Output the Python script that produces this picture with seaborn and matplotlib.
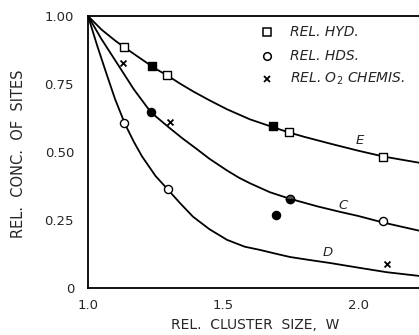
import numpy as np
import pandas as pd
import matplotlib
matplotlib.use("Agg")
import matplotlib.pyplot as plt
import seaborn as sns

sns.set_style("white")
plt.rcParams['font.family'] = ['DejaVu Sans']

# Fitted curves
curve_E_x = [1.0, 1.05, 1.1, 1.133, 1.2, 1.25, 1.293, 1.34, 1.389, 1.45, 1.515, 1.6, 1.689,
             1.744, 1.8, 1.9, 2.0, 2.096, 2.23]
curve_E_y = [1.0, 0.95, 0.91, 0.886, 0.84, 0.806, 0.782, 0.752, 0.723, 0.69, 0.657, 0.62, 0.59,
             0.572, 0.556, 0.53, 0.505, 0.483, 0.46]
curve_C_x = [1.0, 1.05, 1.115, 1.17, 1.233, 1.3, 1.35, 1.4, 1.45, 1.515, 1.56, 1.6, 1.674,
             1.748, 1.85, 1.933, 2.0, 2.096, 2.23]
curve_C_y = [1.0, 0.915, 0.815, 0.73, 0.646, 0.59, 0.55, 0.513, 0.475, 0.432, 0.405, 0.385, 0.352,
             0.328, 0.30, 0.28, 0.265, 0.24, 0.21]
curve_D_x = [1.0, 1.035, 1.067, 1.1, 1.137, 1.17, 1.2, 1.25, 1.293, 1.34, 1.389, 1.45, 1.515,
             1.58, 1.637, 1.7, 1.748, 1.82, 1.896, 2.0, 2.107, 2.23]
curve_D_y = [1.0, 0.888, 0.792, 0.695, 0.603, 0.537, 0.484, 0.412, 0.365, 0.313, 0.262, 0.216, 0.177,
             0.152, 0.14, 0.125, 0.114, 0.103, 0.092, 0.075, 0.058, 0.044]

# Data points
hyd_open_x = [1.133, 1.293, 1.744, 2.093]
hyd_open_y = [0.886, 0.782, 0.572, 0.483]
hyd_fill_x = [1.237, 1.685]
hyd_fill_y = [0.815, 0.594]
hds_open_x = [1.133, 1.296, 2.093]
hds_open_y = [0.605, 0.365, 0.247]
hds_fill_x = [1.233, 1.696]
hds_fill_y = [0.646, 0.269]
hds_half_x = [1.748]
hds_half_y = [0.328]
o2_x = [1.13, 1.304, 2.107]
o2_y = [0.826, 0.609, 0.089]

curve_labels = ["E", "C", "D"]
curve_label_x = [2.007, 1.944, 1.889]
curve_label_y = [0.544, 0.305, 0.132]

legend_labels = ["REL. HYD.", "REL. HDS.", r"REL. O$_{\mathit{2}}$ CHEMIS."]

xticks = [1.0, 1.5, 2.0]
xticklabels = ["1.0", "1.5", "2.0"]
yticks = [0, 0.25, 0.5, 0.75, 1.0]
yticklabels = ["0", "0.25", "0.50", "0.75", "1.00"]

fig = plt.figure(figsize=(4.19, 3.35), dpi=100)
ax = fig.add_axes([88/419, 47/335, 331/419, 272/335])

for cx, cy in [(curve_E_x, curve_E_y), (curve_C_x, curve_C_y), (curve_D_x, curve_D_y)]:
    sns.lineplot(x=cx, y=cy, ax=ax, color="black", lw=1.3, sort=False, estimator=None)

ms = 34
sns.scatterplot(x=hyd_open_x, y=hyd_open_y, ax=ax, marker="s", s=ms, facecolor="white",
                edgecolor="black", linewidth=1.0, zorder=3)
sns.scatterplot(x=hyd_fill_x, y=hyd_fill_y, ax=ax, marker="s", s=ms, color="black",
                edgecolor="black", linewidth=1.0, zorder=3)
sns.scatterplot(x=hds_open_x, y=hds_open_y, ax=ax, marker="o", s=ms, facecolor="white",
                edgecolor="black", linewidth=1.0, zorder=3)
sns.scatterplot(x=hds_fill_x, y=hds_fill_y, ax=ax, marker="o", s=ms, color="black",
                edgecolor="black", linewidth=1.0, zorder=3)
ax.plot(hds_half_x, hds_half_y, marker="o", ms=6, color="black", fillstyle="bottom",
        markerfacecoloralt="#555555", mec="black", mew=1.0, ls="none", zorder=3)
sns.scatterplot(x=o2_x, y=o2_y, ax=ax, marker="x", s=18, color="black", linewidth=1.3, zorder=3)

for lab, lx, ly in zip(curve_labels, curve_label_x, curve_label_y):
    ax.text(lx, ly, lab, fontsize=9.5, style="italic", ha="center", va="center")

# legend (manual)
leg_marker_x = (267 - 88) / 331
leg_text_x = (290 - 88) / 331
leg_y = [(288 - 32) / 272, (288 - 56) / 272, (288 - 79) / 272]
ax.plot([leg_marker_x], [leg_y[0]], marker="s", ms=6, mfc="white", mec="black", mew=1.1,
        transform=ax.transAxes, ls="none")
ax.plot([leg_marker_x], [leg_y[1]], marker="o", ms=5.5, mfc="white", mec="black", mew=1.1,
        transform=ax.transAxes, ls="none")
ax.plot([leg_marker_x], [leg_y[2]], marker="x", ms=4, color="black", mew=1.3,
        transform=ax.transAxes, ls="none")
for lab, ly in zip(legend_labels, leg_y):
    ax.text(leg_text_x, ly, lab, fontsize=10, style="italic", ha="left", va="center",
            transform=ax.transAxes)

ax.set_xlim(1.0, 1.0 + 331 / 270)
ax.set_ylim(0, 1.0)
ax.set_xticks(xticks)
ax.set_xticklabels(xticklabels, fontsize=9.5)
ax.set_yticks(yticks)
ax.set_yticklabels(yticklabels, fontsize=9.5)
ax.tick_params(axis="both", direction="in", length=6, width=1.0, color="black")
ax.tick_params(axis="x", pad=8)
ax.tick_params(axis="y", pad=10)
for s in ["left", "bottom", "top"]:
    ax.spines[s].set_color("black")
    ax.spines[s].set_linewidth(1.3)
ax.spines["right"].set_visible(False)

ax.set_xlabel("REL.  CLUSTER  SIZE,  W", fontsize=10)
ax.set_ylabel("REL.  CONC.  OF  SITES", fontsize=10.5)
ax.xaxis.set_label_coords((255 - 88) / 331, -(318 - 288) / 272)
ax.yaxis.set_label_coords(-(88 - 26) / 331, (288 - 154) / 272)

fig.savefig("out.png", dpi=100)
